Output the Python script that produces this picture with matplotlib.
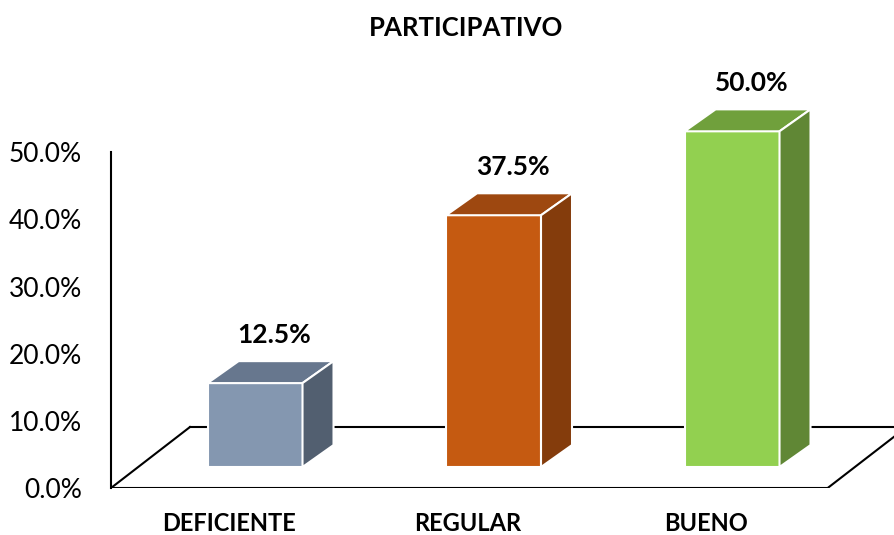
import matplotlib
matplotlib.use("Agg")
from matplotlib import pyplot as plt
from matplotlib.patches import Polygon

plt.rcParams['font.family'] = ['Lato', 'DejaVu Sans']

# datos del grafico
categorias = ['DEFICIENTE', 'REGULAR', 'BUENO']
porcentajes = [12.5, 37.5, 50.0]
titulo = 'PARTICIPATIVO'
ticks_y = [0, 10, 20, 30, 40, 50]

# colores de cada barra: frente, tapa, lado
col_frente = ['#8497B0', '#C55A11', '#92D050']
col_tapa = ['#67778E', '#9E4810', '#70A03C']
col_lado = ['#525F70', '#843C0C', '#608735']

fig = plt.figure(figsize=(8.94, 5.35), dpi=100)
ax = fig.add_axes([111 / 894, 47 / 535, (894 - 111) / 894, 470 / 535])
ax.set_xlim(-0.495, 2.788)
ax.set_ylim(0, 70)

# profundidad del piso y de las barras (unidades de datos)
piso_dx, piso_dy = 0.331, 9.08
frente_dx, frente_dy = 0.109, 3.125
lado_dx, lado_dy = 0.13, 3.27
ancho = 0.398

x0, x1 = -0.495, 2.51
ax.plot([x0, x1], [0, 0], color='black', lw=1.5, zorder=1)
ax.plot([x0, x0 + piso_dx], [0, piso_dy], color='black', lw=1.5, zorder=1)
ax.plot([x0 + piso_dx, 3.0], [piso_dy, piso_dy], color='black', lw=1.5, zorder=1)
ax.plot([x1, x1 + piso_dx], [0, piso_dy], color='black', lw=1.5, zorder=1)

for i, v in enumerate(porcentajes):
    xl = i + frente_dx - ancho / 2
    xr = xl + ancho
    yb = frente_dy
    yt = frente_dy + v
    frente = Polygon([(xl, yb), (xr, yb), (xr, yt), (xl, yt)],
                     facecolor=col_frente[i], edgecolor='white', lw=1.5, zorder=3)
    tapa = Polygon([(xl, yt), (xr, yt), (xr + lado_dx, yt + lado_dy), (xl + lado_dx, yt + lado_dy)],
                   facecolor=col_tapa[i], edgecolor='white', lw=1.5, zorder=3)
    lado = Polygon([(xr, yb), (xr + lado_dx, yb + lado_dy), (xr + lado_dx, yt + lado_dy), (xr, yt)],
                   facecolor=col_lado[i], edgecolor='white', lw=1.5, zorder=3)
    for p in (frente, tapa, lado):
        ax.add_patch(p)
    ax.annotate('%.1f%%' % v, (i + 0.19, yt + lado_dy), xytext=(0, 10),
                textcoords='offset points', ha='center', va='bottom',
                fontsize=19, fontweight='bold', zorder=4)

ax.spines['top'].set_visible(False)
ax.spines['right'].set_visible(False)
ax.spines['bottom'].set_visible(False)
ax.spines['left'].set_bounds(0, 50)
ax.spines['left'].set_linewidth(1.5)

ax.set_yticks(ticks_y)
ax.set_yticklabels(['%.1f%%' % t for t in ticks_y], fontsize=19)
ax.set_xticks(range(len(categorias)))
ax.set_xticklabels(categorias, fontsize=17, fontweight='bold')
ax.tick_params(axis='y', length=0, pad=21)
ax.tick_params(axis='x', length=0, pad=17)

fig.text(466 / 894, 1 - 28 / 535, titulo, ha='center', va='center',
         fontsize=18.5, fontweight='bold')

fig.savefig('out.png', dpi=100)
